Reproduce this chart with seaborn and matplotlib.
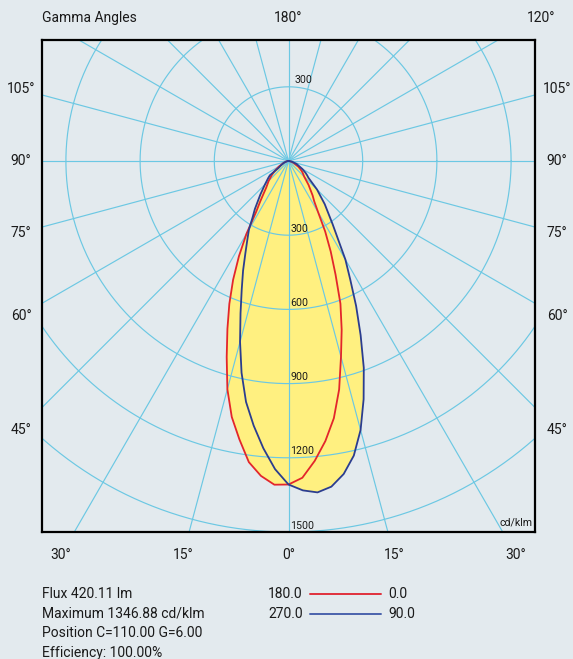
import numpy as np
import pandas as pd
import matplotlib
matplotlib.use("Agg")
import matplotlib.pyplot as plt
import seaborn as sns

# ---- data: luminous intensity (cd/klm) vs gamma angle (deg) ----
gamma = [0, 2.5, 5, 7.5, 10, 12.5, 15, 17.5, 20, 22.5, 25, 27.5, 30, 32.5, 35,
         40, 45, 50, 52.5, 55, 60, 70, 80, 90]
c180 = [1308, 1310, 1278, 1228, 1143, 1060, 955, 831, 722, 625, 530, 434, 340,
        243, 199, 140, 113, 88, 76, 65, 45, 20, 8, 0]
c0 = [1308, 1282, 1217, 1142, 1056, 946, 820, 715, 614, 497, 404, 321, 240,
      194, 170, 126, 90, 75, 68, 60, 46, 22, 8, 0]
c270 = [1308, 1247, 1166, 1079, 989, 877, 757, 645, 553, 480, 413, 361, 320,
        270, 237, 177, 135, 107, 95, 50, 35, 18, 7, 0]
c90 = [1308, 1333, 1345, 1328, 1285, 1220, 1126, 1010, 890, 762, 647, 541, 460,
       370, 310, 228, 163, 105, 95, 85, 65, 35, 14, 0]

ring_values = [300, 600, 900, 1200, 1500, 1800, 2100, 2400]
ring_labels_lower = [300, 600, 900, 1200, 1500]
ray_step = 15
side_labels = [105, 90, 75, 60, 45]
bottom_labels = [30, 15, 0, 15, 30]
info_lines = ["Flux 420.11 lm", "Maximum 1346.88 cd/klm",
              "Position C=110.00 G=6.00", "Efficiency: 100.00%"]
legend_rows = [("180.0", "0.0"), ("270.0", "90.0")]

# ---- style ----
sns.set_style("white")
plt.rcParams['font.family'] = ['Roboto', 'DejaVu Sans']
BG = '#e3eaee'
GRID = '#6cc8e3'
RED = '#e3262b'
BLUE = '#2b3d8f'
YELLOW = '#fff080'
TXT = '#1a1a1a'

W, H = 573, 659
fig = plt.figure(figsize=(W / 100, H / 100), dpi=100, facecolor=BG)
L, R, T, B = 42, 535, 40, 532
ax = fig.add_axes([L / W, 1 - B / H, (R - L) / W, (B - T) / H])
ax.set_facecolor(BG)

cx_px, cy_px = 288.5, 161
k = 371 / 1500.0  # px per cd
ax.set_xlim(-(cx_px - L) / k, (R - cx_px) / k)
ax.set_ylim(-(B - cy_px) / k, (cy_px - T) / k)
ax.set_aspect('auto')

t = np.linspace(0, 2 * np.pi, 721)


def draw_grid(z):
    for rv in ring_values:
        ax.plot(rv * np.cos(t), rv * np.sin(t), color=GRID, lw=0.85, zorder=z)
    for a in range(0, 360, ray_step):
        ar = np.deg2rad(a)
        ax.plot([0, 4000 * np.sin(ar)], [0, -4000 * np.cos(ar)], color=GRID,
                lw=0.85, zorder=z)


def curve(left, right):
    g = np.deg2rad(np.array(gamma, float))
    lv = np.array(left, float)
    rv = np.array(right, float)
    x = np.concatenate([-(lv * np.sin(g))[::-1], (rv * np.sin(g))[1:]])
    y = np.concatenate([-(lv * np.cos(g))[::-1], -(rv * np.cos(g))[1:]])
    return pd.DataFrame({"x": x, "y": y})


red_df = curve(c180, c0)
blue_df = curve(c270, c90)
ax.fill(red_df.x, red_df.y, color=YELLOW, lw=0, zorder=2)
ax.fill(blue_df.x, blue_df.y, color=YELLOW, lw=0, zorder=2)
draw_grid(3)

sns.lineplot(data=red_df, x="x", y="y", sort=False, estimator=None, color=RED,
             lw=1.3, ax=ax, zorder=4)
sns.lineplot(data=blue_df, x="x", y="y", sort=False, estimator=None, color=BLUE,
             lw=1.3, ax=ax, zorder=5)

ax.set_xlabel("")
ax.set_ylabel("")
ax.set_xticks([])
ax.set_yticks([])
for s in ax.spines.values():
    s.set_visible(True)
    s.set_color('black')
    s.set_linewidth(1.6)
    s.set_zorder(10)

# ring labels
lab_fs = 7.7
ax.text(25, 300 + 8, "300", fontsize=lab_fs, ha='left', va='bottom', zorder=6, color=TXT)
for rv in ring_labels_lower:
    ax.text(8, -rv + 6, str(rv), fontsize=lab_fs, ha='left', va='bottom', zorder=6,
            color=TXT)
ax.text(ax.get_xlim()[1] - 12, ax.get_ylim()[0] + 20, "cd/klm", fontsize=lab_fs,
        ha='right', va='bottom', zorder=6, color=TXT)

fs = 10


def fig_text(xp, yp, s, **kw):
    fig.text(xp / W, 1 - yp / H, s, fontsize=fs, va='center', color=TXT, **kw)


fig_text(42, 18, "Gamma Angles", ha='left')
fig_text(cx_px, 18, "180°", ha='center')
fig_text(541, 18, "120°", ha='center')
for g in side_labels:
    if g == 90:
        yp = cy_px
    else:
        yp = cy_px + (cx_px - 20) / np.tan(np.deg2rad(g))
    fig_text(21, yp, f"{g}°", ha='center')
    fig_text(557, yp, f"{g}°", ha='center')
for i, g in enumerate(bottom_labels):
    sign = -1 if i < 2 else 1
    xp = cx_px + sign * (555 - cy_px) * np.tan(np.deg2rad(g))
    fig_text(xp, 555, f"{g}°", ha='center')

for i, line in enumerate(info_lines):
    fig_text(42, 594 + 19.5 * i, line, ha='left')

leg_colors = ['#e0303c', '#4a63ad']
for i, (a, b) in enumerate(legend_rows):
    yp = 594 + 19.5 * i
    fig_text(303, yp, a, ha='right')
    fig_text(388, yp, b, ha='left')
    fig.add_artist(plt.Line2D([310 / W, 381 / W], [1 - yp / H, 1 - yp / H],
                              color=leg_colors[i], lw=1.4))

fig.savefig("out.png", dpi=100, facecolor=BG)
